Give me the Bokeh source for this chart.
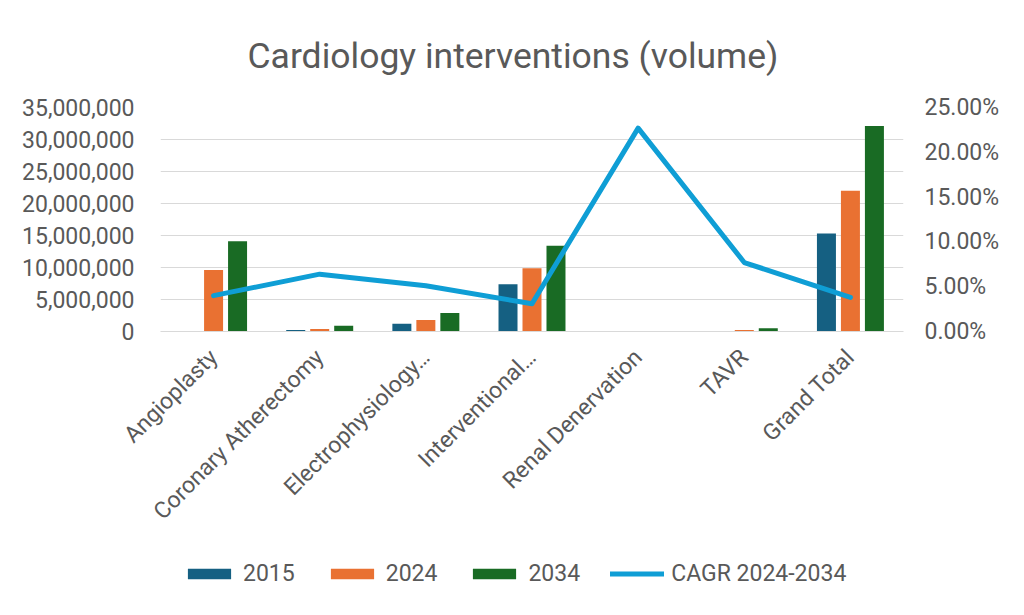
import math
from bokeh.plotting import figure
from bokeh.layouts import column
from bokeh.models import (FactorRange, Range1d, LinearAxis, NumeralTickFormatter,
                          FixedTicker, Legend, LegendItem, ColumnDataSource)
from bokeh.transform import dodge
from bokeh.embed import file_html
from bokeh.resources import INLINE

categories = ["Angioplasty", "Coronary Atherectomy", "Electrophysiology\u2026",
              "Interventional\u2026", "Renal Denervation", "TAVR", "Grand Total"]
vol_2015 = [0, 250000, 1200000, 7400000, 0, 0, 15300000]
vol_2024 = [9600000, 400000, 1800000, 9900000, 0, 250000, 22000000]
vol_2034 = [14100000, 900000, 2900000, 13400000, 0, 500000, 32100000]
cagr_2024_2034 = [0.040, 0.064, 0.051, 0.031, 0.227, 0.077, 0.038]
series_names = ["2015", "2024", "2034", "CAGR 2024-2034"]

left_ticks = [0, 5e6, 10e6, 15e6, 20e6, 25e6, 30e6, 35e6]
right_ticks = [0, 0.05, 0.10, 0.15, 0.20, 0.25]

FONT = "Roboto"
TXT = "#595959"
GRID = "#D9D9D9"
C2015, C2024, C2034, CLINE = "#156082", "#E97132", "#196B24", "#0F9ED5"

src = ColumnDataSource(dict(cat=categories, v2015=vol_2015, v2024=vol_2024,
                            v2034=vol_2034, cagr=cagr_2024_2034))

p1 = figure(width=1008, height=545, output_backend="svg", toolbar_location=None,
            x_range=FactorRange(*categories), y_range=Range1d(0, 35e6),
            min_border_left=160, min_border_right=105, min_border_top=107,
            min_border_bottom=214, title="Cardiology interventions (volume)")
p1.extra_y_ranges = {"pct": Range1d(0, 0.25)}

p1.title.align = "left"
p1.title.offset = 87
p1.title.text_font = FONT
p1.title.text_font_size = "35.5px"
p1.title.text_font_style = "normal"
p1.title.text_color = TXT
p1.title.standoff = 62

p1.outline_line_color = None
p1.background_fill_color = "white"
p1.border_fill_color = "white"
p1.xgrid.grid_line_color = None
p1.ygrid.grid_line_color = GRID
p1.ygrid.grid_line_width = 1

w = 0.179
off = 0.226
p1.vbar(x=dodge("cat", -off, range=p1.x_range), top="v2015", width=w, source=src,
        fill_color=C2015, line_color=None)
p1.vbar(x=dodge("cat", 0, range=p1.x_range), top="v2024", width=w, source=src,
        fill_color=C2024, line_color=None)
p1.vbar(x=dodge("cat", off, range=p1.x_range), top="v2034", width=w, source=src,
        fill_color=C2034, line_color=None)
p1.line(x="cat", y="cagr", source=src, y_range_name="pct", line_color=CLINE,
        line_width=5, line_cap="round", line_join="round")

# left axis
la = p1.yaxis[0]
la.ticker = FixedTicker(ticks=left_ticks)
la.formatter = NumeralTickFormatter(format="0,0")
la.axis_line_color = None
la.major_tick_line_color = None
la.minor_tick_line_color = None
la.major_label_text_font = FONT
la.major_label_text_font_size = "23px"
la.major_label_text_color = TXT
la.major_label_standoff = 20

# right axis
ra = LinearAxis(y_range_name="pct", ticker=FixedTicker(ticks=right_ticks),
                formatter=NumeralTickFormatter(format="0.00%"))
ra.axis_line_color = None
ra.major_tick_line_color = None
ra.minor_tick_line_color = None
ra.major_label_text_font = FONT
ra.major_label_text_font_size = "23px"
ra.major_label_text_color = TXT
ra.major_label_standoff = 15
p1.add_layout(ra, "right")

# bottom axis
xa = p1.xaxis[0]
xa.axis_line_color = GRID
xa.major_tick_line_color = None
xa.minor_tick_line_color = None
xa.major_label_orientation = math.pi / 4
xa.major_label_text_font = FONT
xa.major_label_text_font_size = "23px"
xa.major_label_text_color = TXT
xa.major_label_standoff = 16

# legend strip (separate figure so the legend is not clipped by the plot frame)
p2 = figure(width=1008, height=54, output_backend="svg", toolbar_location=None,
            x_range=Range1d(0, 1), y_range=Range1d(0, 1),
            x_axis_location=None, y_axis_location=None,
            min_border_left=0, min_border_right=0, min_border_top=0, min_border_bottom=0)
p2.outline_line_color = None
p2.background_fill_color = "white"
p2.border_fill_color = "white"
p2.xgrid.grid_line_color = None
p2.ygrid.grid_line_color = None
hidden = ColumnDataSource(dict(x=[0.5], y=[0.0]))
r1 = p2.vbar(x="x", top="y", width=0.0, source=hidden, fill_color=C2015, line_color=None)
r2 = p2.vbar(x="x", top="y", width=0.0, source=hidden, fill_color=C2024, line_color=None)
r3 = p2.vbar(x="x", top="y", width=0.0, source=hidden, fill_color=C2034, line_color=None)
r4 = p2.line(x="x", y="y", source=hidden, line_color=CLINE, line_width=5, line_cap="round")

legend = Legend(items=[LegendItem(label=n, renderers=[r]) for n, r in
                       zip(series_names, [r1, r2, r3, r4])],
                orientation="horizontal", location=(22, 12),
                glyph_width=54, glyph_height=13, label_standoff=7, spacing=30,
                padding=0, margin=0, border_line_color=None,
                background_fill_alpha=0,
                label_text_font=FONT, label_text_font_size="23px",
                label_text_color=TXT)
p2.add_layout(legend, "center")

p = column(p1, p2, spacing=0)

open("out.html", "w").write(file_html(p, INLINE))
